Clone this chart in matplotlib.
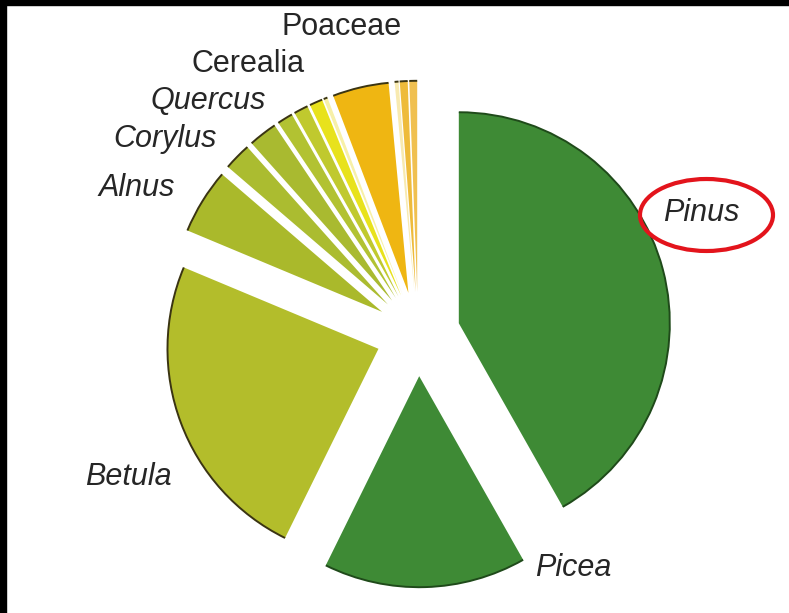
import matplotlib
matplotlib.use("Agg")
import matplotlib.pyplot as plt
from matplotlib.patches import Arc, Ellipse, Rectangle

# Pollen composition (percent of total pollen sum), clockwise from 12 o'clock
taxa = ["Pinus", "Picea", "Betula", "Alnus", "Corylus", "Quercus",
        "Tilia", "Ulmus", "Cerealia", "Artemisia", "Poaceae", "Calluna",
        "Rumex", "Other"]
percent = [41.8, 15.5, 24.0, 5.0, 2.1, 2.2, 1.2, 1.1, 1.0, 0.3, 4.3, 0.3, 0.6, 0.6]
colors = ["#3e8a35", "#3e8a35", "#b3bd2b", "#aab92b", "#abbc30", "#a9ba30",
          "#b2c232", "#c0c92e", "#e8e21c", "#f7f0a8", "#efb612", "#f8eab0",
          "#eebb3a", "#f0c050"]

# Labels shown beside the pie
label_names = ["Pinus", "Picea", "Betula", "Alnus", "Corylus", "Quercus", "Cerealia", "Poaceae"]
label_italic = [True, True, True, True, True, True, False, False]

W, H = 789, 613
CX, CY, R = 418, 334, 211  # pie centre and radius in pixels


def px(x, y):
    """Pixel position (from top-left) to data coordinates."""
    return (x - CX) / R, (CY - y) / R


fig = plt.figure(figsize=(W / 100, H / 100), dpi=100)
ax = fig.add_axes([0, 0, 1, 1])

wedges, _ = ax.pie(percent, colors=colors, startangle=90, counterclock=False,
                   explode=[0.2] * len(percent), radius=1.0,
                   wedgeprops=dict(linewidth=0))

ax.set_xlim(-CX / R, (W - CX) / R)
ax.set_ylim(-(H - CY) / R, CY / R)
ax.set_aspect("equal")
ax.axis("off")

# dark rim along the outer arc of each wedge
for w, c in zip(wedges, colors):
    rim = "#1f4a1a" if c == "#3e8a35" else "#3a3412"
    ax.add_patch(Arc(w.center, 2 * w.r, 2 * w.r, theta1=w.theta1, theta2=w.theta2,
                     color=rim, lw=1.4, zorder=3))

label_pos = {
    "Pinus": (701, 213), "Picea": (573, 568), "Betula": (128, 477),
    "Alnus": (137, 188), "Corylus": (165, 139), "Quercus": (208, 101),
    "Cerealia": (248, 64), "Poaceae": (342, 27),
}
for name, it in zip(label_names, label_italic):
    x, y = px(*label_pos[name])
    ax.text(x, y, name, ha="center", va="center", fontsize=22,
            family="Liberation Sans", style="italic" if it else "normal",
            color="#262626")

# highlight ring around the Pinus label
ex, ey = px(706.5, 215)
ax.add_patch(Ellipse((ex, ey), 133 / R, 72 / R, fill=False,
                     edgecolor="#e3141c", lw=3.0, zorder=4))

# black frame strips along the top and left edges
fig.patches.append(Rectangle((0, 1 - 5 / H), 1, 5 / H, transform=fig.transFigure,
                             color="black", zorder=10))
fig.patches.append(Rectangle((0, 0), 6 / W, 1, transform=fig.transFigure,
                             color="black", zorder=10))

fig.savefig("out.png", dpi=100, facecolor="white")
